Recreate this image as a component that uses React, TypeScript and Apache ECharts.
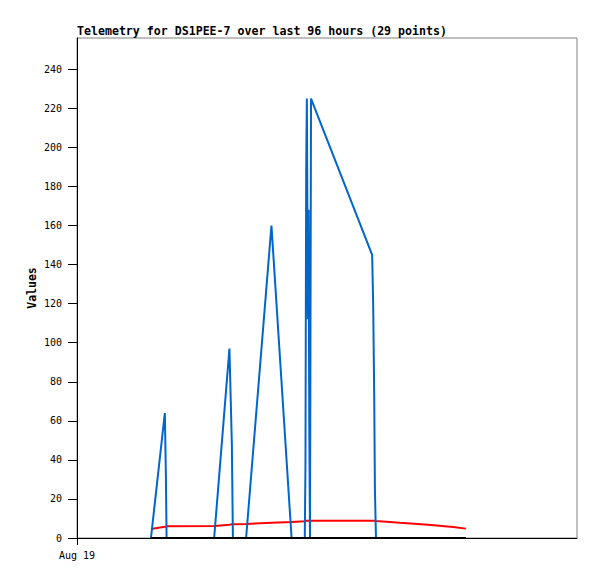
import React, { useEffect, useRef } from "react";
import * as echarts from "echarts";

// Times of the 29 telemetry packets on Aug 19 (HH:MM)
const times = [
  "03:33", "04:13", "04:16", "04:18", "06:35", "07:19", "07:26", "07:29", "08:07", "09:20",
  "10:18", "10:56", "10:58", "11:00", "11:02", "11:05", "11:07", "11:09", "11:11", "11:14",
  "14:10", "14:13", "14:16", "14:18", "14:21", "15:30", "16:51", "18:03", "18:40",
];
const blueValues = [
  0, 64, 32, 0, 0, 97, 48, 0, 0, 160,
  0, 0, 38, 187, 225, 112, 168, 56, 0, 225,
  145, 120, 72, 25, 0, 0, 0, 0, 0,
];
const redValues = [
  4.6, 5.8, 5.9, 6.0, 6.2, 6.8, 7.0, 7.0, 7.2, 7.8,
  8.2, 8.6, 8.8, 8.8, 8.8, 8.8, 8.8, 8.8, 8.8, 8.8,
  8.8, 8.8, 8.8, 8.8, 8.7, 7.8, 6.8, 5.6, 4.8,
];
const blackValues = [
  0, 0, 0, 0, 0, 0, 0, 0, 0, 0,
  0, 0, 0, 0, 0, 0, 0, 0, 0, 0,
  0, 0, 0, 0, 0, 0, 0, 0, 0,
];
const yTicks = [0, 20, 40, 60, 80, 100, 120, 140, 160, 180, 200, 220, 240];
const xLabel = "Aug 19";
const title = "Telemetry for DS1PEE-7 over last 96 hours (29 points)";

const toHours = (t: string) => {
  const [h, m] = t.split(":").map(Number);
  return h + m / 60;
};

export default function App() {
  const ref = useRef<HTMLDivElement>(null);
  useEffect(() => {
    if (!ref.current) return;
    const chart = echarts.init(ref.current, null, { renderer: "svg" });
    const xs = times.map(toHours);
    const mk = (vals: number[]) => xs.map((x, i) => [x, vals[i]]);
    const mono = "DejaVu Sans Mono";
    chart.setOption({
      animation: false,
      backgroundColor: "#ffffff",
      title: {
        text: title,
        left: 77,
        top: 25,
        padding: 0,
        textStyle: { fontFamily: mono, fontSize: 11.6, fontWeight: "bold", color: "#000" },
      },
      grid: {
        left: 77,
        top: 38,
        right: 20,
        bottom: 41,
        show: true,
        borderColor: "#808080",
        borderWidth: 1,
        backgroundColor: "transparent",
      },
      xAxis: {
        type: "value",
        min: 0,
        max: 24,
        interval: 24,
        axisLine: { show: true, onZero: false, lineStyle: { color: "#000", width: 1 } },
        axisTick: { show: true, customValues: [0], length: 7, lineStyle: { color: "#000" } },
        axisLabel: {
          customValues: [0],
          formatter: () => xLabel,
          margin: 12,
          fontFamily: mono,
          fontSize: 10,
          color: "#000",
        },
        splitLine: { show: false },
      },
      yAxis: {
        type: "value",
        min: 0,
        max: 256,
        interval: 20,
        name: "Values",
        nameLocation: "middle",
        nameGap: 39,
        nameMoveOverlap: false,
        nameRotate: 90,
        nameTextStyle: { fontFamily: mono, fontSize: 11.5, fontWeight: "bold", color: "#000" },
        axisLine: { show: true, lineStyle: { color: "#000", width: 1 } },
        axisTick: { show: true, customValues: yTicks, length: 9, lineStyle: { color: "#000" } },
        axisLabel: {
          customValues: yTicks,
          margin: 15,
          fontFamily: mono,
          fontSize: 10,
          color: "#000",
        },
        splitLine: { show: false },
      },
      series: [
        {
          type: "line",
          data: mk(redValues),
          showSymbol: false,
          lineStyle: { color: "#ff0000", width: 2 },
          itemStyle: { color: "#ff0000" },
          z: 2,
        },
        {
          type: "line",
          data: mk(blueValues),
          showSymbol: false,
          lineStyle: { color: "#0066cc", width: 2 },
          itemStyle: { color: "#0066cc" },
          z: 3,
        },
        {
          type: "line",
          data: mk(blackValues),
          showSymbol: false,
          lineStyle: { color: "#000000", width: 2 },
          itemStyle: { color: "#000000" },
          z: 4,
        },
      ],
    });
    return () => chart.dispose();
  }, []);
  return <div ref={ref} style={{ width: 597, height: 579, position: "absolute", left: 0, top: 0 }} />;
}
